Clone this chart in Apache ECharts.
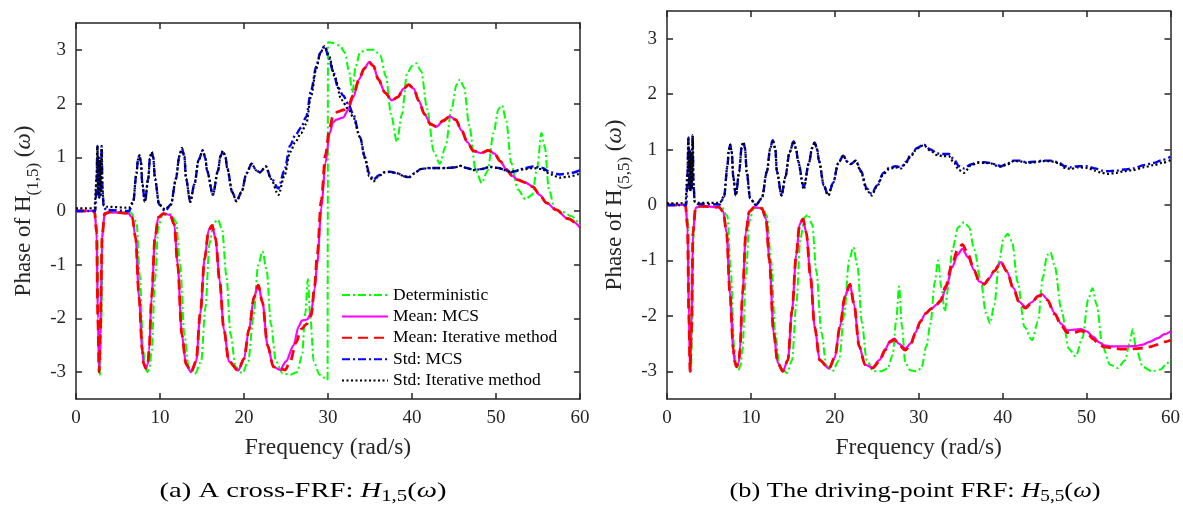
<!DOCTYPE html>
<html><head><meta charset="utf-8">
<script src="https://cdn.jsdelivr.net/npm/echarts@6/dist/echarts.min.js"></script>
<style>html,body{margin:0;padding:0;background:#fff}#c{width:1183px;height:506px}</style>
</head><body><div id="c"></div>
<script>
// ---------- tick labels / categories ----------
const xTicks = [0, 10, 20, 30, 40, 50, 60];
const yTicks = [-3, -2, -1, 0, 1, 2, 3];
const seriesNames = ['Deterministic', 'Mean: MCS', 'Mean: Iterative method', 'Std: MCS', 'Std: Iterative method'];

// ---------- (a) cross-FRF H(1,5): [frequency, phase] ----------
const aDet = [[0,0],[2.2,0],[2.5,-0.3],[2.7,-2.0],[2.85,-3.05],[3.0,-2.2],[3.2,-0.3],[3.5,-0.03],[6.5,-0.03],[7.2,-0.2],[7.6,-1.2],[8.0,-2.6],[8.25,-2.92],[8.5,-3.0],[8.75,-2.92],[9.0,-2.6],[9.4,-1.3],[9.8,-0.3],[10.3,-0.07],[11.3,-0.06],[11.9,-0.2],[12.4,-1.0],[12.9,-2.3],[13.4,-2.9],[14.2,-3.02],[14.9,-2.8],[15.4,-1.8],[15.9,-0.6],[16.4,-0.22],[16.9,-0.16],[17.4,-0.35],[17.9,-1.2],[18.4,-2.3],[19.0,-2.9],[19.8,-3.02],[20.5,-2.8],[21.1,-2.0],[21.7,-1.0],[22.2,-0.75],[22.7,-1.1],[23.2,-2.1],[23.8,-2.8],[24.6,-3.02],[25.5,-3.05],[26.3,-3.0],[26.9,-2.7],[27.3,-1.9],[27.6,-1.27],[27.9,-2.0],[28.3,-2.8],[29.0,-3.05],[29.95,-3.14],[30.0,3.14],[30.5,3.13],[31.4,3.08],[32.0,2.95],[32.5,2.6],[32.9,2.2],[33.3,2.7],[33.8,2.95],[34.5,3.0],[35.5,3.0],[36.2,2.9],[36.9,2.5],[37.5,1.8],[38.2,1.29],[38.8,1.8],[39.4,2.55],[40.0,2.7],[40.5,2.75],[41.1,2.6],[41.8,1.9],[42.6,1.1],[43.3,0.88],[44.0,1.2],[44.7,1.9],[45.3,2.35],[45.7,2.45],[46.2,2.3],[46.8,1.6],[47.6,0.75],[48.3,0.52],[49.0,0.75],[49.7,1.45],[50.3,1.9],[50.7,1.97],[51.2,1.7],[51.8,0.9],[52.6,0.4],[53.5,0.22],[54.3,0.3],[54.9,0.8],[55.4,1.45],[55.8,1.2],[56.3,0.4],[57.0,0.03],[58.0,-0.02],[59.0,-0.1],[60,-0.27]];
const aMeanMCS = [[0,0],[2.2,0],[2.45,-0.4],[2.6,-2.0],[2.75,-3.0],[2.9,-2.3],[3.1,-0.5],[3.4,-0.05],[4,-0.02],[6.2,-0.04],[6.7,-0.12],[7.1,-0.5],[7.5,-1.6],[7.9,-2.6],[8.05,-2.84],[8.3,-2.93],[8.55,-2.85],[8.7,-2.6],[9.0,-1.6],[9.4,-0.5],[9.8,-0.12],[10.4,-0.05],[11.2,-0.07],[11.7,-0.25],[12.1,-1.0],[12.6,-2.3],[13.1,-2.85],[13.7,-3.0],[14.3,-2.8],[14.8,-1.9],[15.3,-0.9],[15.8,-0.35],[16.2,-0.27],[16.6,-0.5],[17.1,-1.3],[17.6,-2.2],[18.2,-2.8],[19.3,-2.97],[20.0,-2.75],[20.6,-2.2],[21.2,-1.6],[21.7,-1.38],[22.2,-1.7],[22.8,-2.5],[23.5,-2.9],[24.3,-2.96],[25.0,-2.8],[25.9,-2.5],[26.5,-2.15],[26.9,-2.04],[27.5,-2.02],[28.0,-1.9],[28.4,-1.45],[28.7,-1.0],[29.2,0.05],[29.7,0.9],[30.2,1.45],[30.6,1.65],[31.0,1.7],[31.8,1.74],[32.4,1.88],[33.0,2.12],[33.7,2.45],[34.3,2.65],[34.9,2.77],[35.4,2.7],[36.0,2.45],[36.8,2.2],[37.6,2.06],[38.3,2.12],[39.0,2.28],[39.6,2.35],[40.2,2.28],[40.8,2.05],[41.5,1.8],[42.2,1.62],[42.9,1.57],[43.7,1.68],[44.5,1.76],[45.2,1.7],[45.9,1.5],[46.6,1.28],[47.3,1.12],[48.2,1.08],[49.1,1.13],[49.8,1.07],[50.5,0.93],[51.2,0.78],[51.9,0.66],[52.6,0.58],[53.5,0.53],[54.4,0.45],[55.2,0.3],[56.0,0.15],[57.2,0.02],[58.5,-0.14],[60,-0.3]];
const aMeanIter = [[0,0],[2.2,0],[2.45,-0.4],[2.6,-2.0],[2.75,-3.0],[2.9,-2.3],[3.1,-0.5],[3.4,-0.05],[4,-0.02],[6.2,-0.04],[6.7,-0.12],[7.1,-0.5],[7.5,-1.6],[7.9,-2.6],[8.05,-2.84],[8.3,-2.93],[8.55,-2.85],[8.7,-2.6],[9.0,-1.6],[9.4,-0.5],[9.8,-0.12],[10.4,-0.05],[11.2,-0.07],[11.7,-0.25],[12.1,-1.0],[12.6,-2.3],[13.1,-2.85],[13.7,-3.0],[14.3,-2.8],[14.8,-1.9],[15.3,-0.9],[15.8,-0.35],[16.2,-0.27],[16.6,-0.5],[17.1,-1.3],[17.6,-2.2],[18.2,-2.8],[19.3,-2.97],[20.0,-2.75],[20.6,-2.2],[21.2,-1.6],[21.7,-1.38],[22.2,-1.7],[22.8,-2.5],[23.5,-2.9],[24.3,-2.94],[24.9,-2.96],[25.5,-2.8],[26.2,-2.45],[26.8,-2.2],[27.5,-2.1],[28.0,-1.95],[28.4,-1.4],[28.7,-0.85],[29.2,0.2],[29.7,1.05],[30.2,1.55],[30.6,1.78],[31.2,1.85],[31.8,1.88],[32.4,1.95],[33.0,2.15],[33.7,2.45],[34.3,2.65],[34.9,2.77],[35.4,2.7],[36.0,2.45],[36.8,2.2],[37.6,2.06],[38.3,2.12],[39.0,2.28],[39.6,2.35],[40.2,2.28],[40.8,2.05],[41.5,1.8],[42.2,1.62],[42.9,1.57],[43.7,1.68],[44.5,1.76],[45.2,1.7],[45.9,1.5],[46.6,1.28],[47.3,1.12],[48.2,1.08],[49.1,1.13],[49.8,1.07],[50.5,0.93],[51.2,0.78],[51.9,0.66],[52.6,0.58],[53.5,0.53],[54.4,0.45],[55.2,0.3],[56.0,0.15],[57.2,0.02],[58.5,-0.14],[60,-0.3]];
const aStdMCS = [[0,0],[2.3,0],[2.45,0.6],[2.55,1.21],[2.62,0.3],[2.7,1.0],[2.78,0.25],[2.86,0.95],[2.95,0.3],[3.05,1.21],[3.15,0.4],[3.3,0.08],[3.6,0.02],[6.3,0.0],[6.8,0.15],[7.2,0.7],[7.38,0.96],[7.55,1.04],[7.72,0.92],[7.9,0.5],[8.2,0.17],[8.6,0.6],[8.8,0.98],[9.0,1.1],[9.2,1.0],[9.4,0.6],[9.9,0.12],[10.6,0.0],[11.3,0.12],[11.9,0.6],[12.3,1.02],[12.6,1.17],[12.9,1.02],[13.1,0.6],[13.6,0.17],[14.1,0.5],[14.6,0.95],[15.1,1.13],[15.4,0.98],[15.6,0.75],[16.3,0.3],[16.9,0.75],[17.2,1.02],[17.5,1.12],[17.8,1.0],[18.0,0.8],[18.6,0.35],[19.1,0.18],[19.7,0.35],[20.3,0.7],[20.9,0.88],[21.5,0.75],[21.9,0.72],[22.6,0.83],[23.2,0.62],[24.1,0.42],[24.8,0.75],[25.5,1.22],[26.1,1.41],[26.8,1.55],[27.4,1.75],[28.0,2.25],[28.6,2.69],[29.1,2.95],[29.6,3.07],[30.1,2.85],[30.6,2.6],[31.2,2.3],[31.8,2.15],[32.4,2.0],[33.0,1.8],[33.8,1.38],[34.4,1.0],[34.9,0.7],[35.4,0.58],[36.0,0.66],[36.7,0.72],[37.4,0.73],[38.3,0.7],[39.0,0.65],[39.6,0.63],[40.3,0.7],[41.0,0.78],[42.0,0.8],[43.0,0.8],[44.0,0.8],[45.0,0.81],[45.8,0.84],[46.5,0.8],[47.3,0.77],[48.2,0.78],[49.3,0.82],[50.3,0.8],[51.0,0.77],[51.7,0.72],[52.6,0.75],[53.4,0.8],[54.5,0.83],[55.5,0.8],[56.5,0.72],[57.6,0.68],[58.7,0.7],[60,0.76]];
const aStdIter = [[0,0.05],[2.2,0.05],[2.45,0.6],[2.55,1.21],[2.62,0.3],[2.7,1.0],[2.78,0.25],[2.86,0.95],[2.95,0.3],[3.05,1.21],[3.15,0.4],[3.3,0.1],[3.6,0.08],[6.3,0.06],[6.8,0.17],[7.2,0.7],[7.38,0.96],[7.55,1.04],[7.72,0.92],[7.9,0.5],[8.2,0.17],[8.6,0.6],[8.8,0.98],[9.0,1.1],[9.2,1.0],[9.4,0.6],[9.9,0.12],[10.6,0.03],[11.3,0.12],[11.9,0.6],[12.3,1.02],[12.6,1.17],[12.9,1.02],[13.1,0.6],[13.6,0.17],[14.1,0.5],[14.6,0.95],[15.1,1.13],[15.4,0.98],[15.6,0.75],[16.3,0.3],[16.9,0.75],[17.2,1.02],[17.5,1.12],[17.8,1.0],[18.0,0.8],[18.6,0.35],[19.1,0.18],[19.7,0.35],[20.3,0.7],[20.9,0.88],[21.5,0.75],[21.9,0.72],[22.6,0.83],[23.2,0.6],[24.1,0.3],[24.8,0.65],[25.5,1.1],[26.1,1.28],[26.8,1.45],[27.4,1.62],[28.0,2.15],[28.6,2.65],[29.1,2.95],[29.6,3.07],[30.1,2.9],[30.8,2.5],[31.6,2.07],[32.4,1.9],[33.0,1.75],[33.8,1.38],[34.4,0.98],[34.9,0.65],[35.4,0.55],[36.0,0.64],[36.7,0.72],[37.4,0.73],[38.3,0.7],[39.0,0.65],[39.6,0.62],[40.3,0.7],[41.0,0.78],[42.0,0.8],[43.0,0.8],[44.0,0.8],[45.0,0.81],[45.8,0.84],[46.5,0.8],[47.3,0.76],[48.2,0.78],[49.3,0.82],[50.3,0.8],[51.0,0.76],[51.7,0.73],[52.6,0.76],[53.4,0.78],[54.5,0.8],[55.5,0.78],[56.5,0.68],[57.6,0.62],[58.7,0.64],[60,0.7]];

// ---------- (b) driving-point FRF H(5,5): [frequency, phase] ----------
const bDet = [[0,0],[2.2,0],[2.5,-0.3],[2.7,-2.0],[2.85,-3.02],[3.0,-2.2],[3.2,-0.3],[3.5,-0.03],[6.5,-0.03],[7.2,-0.2],[7.6,-1.2],[8.0,-2.55],[8.25,-2.9],[8.5,-2.98],[8.75,-2.9],[9.0,-2.6],[9.4,-1.3],[9.8,-0.3],[10.3,-0.06],[11.4,-0.05],[11.9,-0.2],[12.4,-1.0],[12.9,-2.3],[13.4,-2.9],[14.3,-3.03],[14.9,-2.8],[15.4,-1.8],[15.9,-0.6],[16.4,-0.22],[16.8,-0.17],[17.3,-0.35],[17.8,-1.2],[18.4,-2.3],[19.0,-2.9],[19.7,-3.0],[20.5,-2.8],[21.1,-2.0],[21.7,-1.0],[22.2,-0.76],[22.7,-1.1],[23.2,-2.1],[23.8,-2.8],[24.6,-3.0],[25.5,-3.0],[26.3,-2.95],[26.9,-2.7],[27.3,-2.1],[27.66,-1.47],[28.0,-2.2],[28.4,-2.85],[29.0,-2.98],[29.7,-3.0],[30.3,-2.95],[30.9,-2.55],[31.4,-2.14],[31.9,-1.4],[32.3,-1.0],[32.7,-1.5],[33.1,-1.92],[33.5,-1.5],[34.0,-0.8],[34.7,-0.4],[35.4,-0.31],[36.0,-0.4],[36.6,-0.8],[37.4,-1.37],[38.0,-1.95],[38.5,-2.14],[39.0,-1.8],[39.6,-1.0],[40.1,-0.6],[40.6,-0.52],[41.1,-0.65],[41.8,-1.4],[42.6,-2.2],[43.5,-2.44],[44.2,-2.1],[44.8,-1.3],[45.3,-0.9],[45.7,-0.85],[46.2,-1.1],[47.0,-1.9],[47.9,-2.6],[48.7,-2.73],[49.5,-2.4],[50.2,-1.7],[50.7,-1.5],[51.2,-1.8],[51.9,-2.55],[52.8,-2.88],[53.7,-2.94],[54.6,-2.8],[55.1,-2.5],[55.5,-2.24],[55.9,-2.6],[56.7,-2.92],[57.8,-3.0],[58.8,-2.97],[59.5,-2.87],[60,-2.78]];
const bMeanMCS = [[0,0],[2.2,0],[2.45,-0.4],[2.6,-2.0],[2.75,-3.0],[2.9,-2.3],[3.1,-0.5],[3.4,-0.05],[4,-0.02],[6.2,-0.04],[6.7,-0.12],[7.1,-0.5],[7.5,-1.6],[7.9,-2.6],[8.05,-2.82],[8.3,-2.92],[8.55,-2.84],[8.7,-2.6],[9.0,-1.6],[9.4,-0.5],[9.8,-0.12],[10.4,-0.04],[11.3,-0.06],[11.8,-0.25],[12.2,-1.0],[12.7,-2.3],[13.2,-2.85],[13.8,-3.0],[14.4,-2.8],[14.9,-1.9],[15.4,-0.9],[15.8,-0.35],[16.2,-0.25],[16.6,-0.5],[17.1,-1.3],[17.6,-2.2],[18.2,-2.8],[19.3,-2.95],[20.0,-2.75],[20.6,-2.2],[21.2,-1.65],[21.8,-1.43],[22.3,-1.8],[22.9,-2.55],[23.6,-2.88],[24.5,-2.94],[25.3,-2.8],[26.0,-2.6],[26.6,-2.45],[27.1,-2.41],[27.6,-2.5],[28.4,-2.59],[29.0,-2.5],[29.6,-2.3],[30.2,-2.1],[30.8,-1.96],[31.5,-1.87],[32.1,-1.8],[32.6,-1.75],[33.2,-1.52],[34.0,-1.12],[34.6,-0.9],[35.2,-0.79],[35.9,-0.95],[36.6,-1.18],[37.2,-1.38],[37.8,-1.42],[38.4,-1.32],[39.0,-1.19],[39.8,-1.03],[40.5,-1.2],[41.3,-1.5],[42.0,-1.75],[42.7,-1.84],[43.5,-1.75],[44.2,-1.64],[44.7,-1.61],[45.3,-1.7],[46.2,-1.95],[47.0,-2.15],[47.7,-2.26],[48.5,-2.25],[49.3,-2.24],[50.0,-2.28],[50.8,-2.38],[51.5,-2.48],[52.1,-2.53],[53.0,-2.55],[54.0,-2.55],[55.0,-2.55],[55.9,-2.54],[56.7,-2.52],[57.5,-2.47],[58.5,-2.4],[59.3,-2.33],[60,-2.28]];
const bMeanIter = [[0,0],[2.2,0],[2.45,-0.4],[2.6,-2.0],[2.75,-3.0],[2.9,-2.3],[3.1,-0.5],[3.4,-0.05],[4,-0.02],[6.2,-0.04],[6.7,-0.12],[7.1,-0.5],[7.5,-1.6],[7.9,-2.6],[8.05,-2.82],[8.3,-2.92],[8.55,-2.84],[8.7,-2.6],[9.0,-1.6],[9.4,-0.5],[9.8,-0.12],[10.4,-0.04],[11.3,-0.06],[11.8,-0.25],[12.2,-1.0],[12.7,-2.3],[13.2,-2.85],[13.8,-3.0],[14.4,-2.8],[14.9,-1.9],[15.4,-0.9],[15.8,-0.35],[16.2,-0.25],[16.6,-0.5],[17.1,-1.3],[17.6,-2.2],[18.2,-2.8],[19.3,-2.95],[20.0,-2.75],[20.6,-2.2],[21.2,-1.65],[21.8,-1.43],[22.3,-1.8],[22.9,-2.55],[23.6,-2.88],[24.5,-2.94],[25.3,-2.82],[26.0,-2.62],[26.6,-2.47],[27.1,-2.43],[27.6,-2.52],[28.4,-2.62],[29.0,-2.53],[29.6,-2.32],[30.2,-2.1],[30.8,-1.96],[31.5,-1.87],[32.1,-1.8],[32.6,-1.72],[33.2,-1.47],[34.0,-1.05],[34.6,-0.82],[35.2,-0.71],[35.9,-0.9],[36.6,-1.18],[37.2,-1.38],[37.8,-1.43],[38.4,-1.33],[39.0,-1.19],[39.8,-1.03],[40.5,-1.2],[41.3,-1.52],[42.0,-1.77],[42.7,-1.86],[43.5,-1.76],[44.2,-1.65],[44.7,-1.62],[45.3,-1.71],[46.2,-1.97],[47.0,-2.18],[47.7,-2.3],[48.5,-2.3],[49.3,-2.27],[50.0,-2.3],[50.8,-2.42],[51.5,-2.52],[52.1,-2.56],[53.0,-2.58],[54.0,-2.6],[55.0,-2.6],[55.9,-2.59],[56.7,-2.58],[57.5,-2.56],[58.5,-2.52],[59.3,-2.47],[60,-2.44]];
const bStdMCS = [[0,0],[2.3,0],[2.45,0.6],[2.55,1.22],[2.62,0.3],[2.7,1.0],[2.78,0.25],[2.86,0.95],[2.95,0.3],[3.06,1.26],[3.15,0.4],[3.3,0.06],[3.6,0.02],[6.3,0.01],[6.8,0.15],[7.2,0.7],[7.37,1.0],[7.54,1.09],[7.71,0.96],[7.9,0.5],[8.2,0.17],[8.6,0.6],[8.9,1.04],[9.1,1.14],[9.3,1.02],[9.5,0.6],[9.9,0.12],[10.6,0.0],[11.3,0.12],[11.9,0.6],[12.3,1.02],[12.6,1.17],[12.9,1.02],[13.1,0.6],[13.65,0.17],[14.1,0.5],[14.6,0.95],[15.1,1.15],[15.4,1.0],[15.6,0.8],[16.3,0.33],[16.9,0.75],[17.3,1.03],[17.6,1.13],[17.9,1.0],[18.1,0.8],[18.7,0.35],[19.2,0.17],[19.8,0.4],[20.4,0.75],[21.0,0.89],[21.5,0.78],[21.9,0.74],[22.5,0.8],[23.1,0.62],[23.8,0.3],[24.4,0.2],[25.0,0.35],[25.8,0.58],[26.5,0.67],[27.2,0.7],[27.9,0.68],[28.5,0.78],[29.0,0.89],[29.8,1.03],[30.6,1.09],[31.4,1.0],[32.2,0.93],[32.9,0.92],[33.6,0.92],[34.2,0.82],[34.8,0.7],[35.4,0.66],[36.2,0.73],[37.0,0.77],[37.8,0.77],[38.6,0.76],[39.3,0.72],[39.8,0.7],[40.5,0.74],[41.3,0.8],[42.0,0.8],[42.9,0.77],[43.8,0.78],[44.8,0.8],[45.7,0.8],[46.6,0.77],[47.4,0.7],[48.1,0.68],[49.0,0.7],[50.1,0.7],[51.0,0.66],[51.8,0.62],[52.5,0.61],[53.5,0.62],[54.5,0.64],[55.6,0.66],[56.8,0.72],[58.0,0.76],[59.0,0.81],[60,0.87]];
const bStdIter = [[0,0.03],[2.2,0.03],[2.45,0.6],[2.55,1.22],[2.62,0.3],[2.7,1.0],[2.78,0.25],[2.86,0.95],[2.95,0.3],[3.06,1.26],[3.15,0.4],[3.3,0.06],[3.6,0.04],[6.3,0.04],[6.8,0.16],[7.2,0.7],[7.37,1.0],[7.54,1.09],[7.71,0.96],[7.9,0.5],[8.2,0.17],[8.6,0.6],[8.9,1.04],[9.1,1.14],[9.3,1.02],[9.5,0.6],[9.9,0.12],[10.6,0.0],[11.3,0.12],[11.9,0.6],[12.3,1.02],[12.6,1.17],[12.9,1.02],[13.1,0.6],[13.65,0.17],[14.1,0.5],[14.6,0.95],[15.1,1.15],[15.4,1.0],[15.6,0.8],[16.3,0.28],[16.9,0.75],[17.3,1.03],[17.6,1.13],[17.9,1.0],[18.1,0.8],[18.7,0.35],[19.2,0.17],[19.8,0.4],[20.4,0.75],[21.0,0.89],[21.5,0.78],[21.9,0.74],[22.5,0.8],[23.1,0.6],[23.8,0.27],[24.4,0.17],[25.0,0.33],[25.8,0.56],[26.5,0.65],[27.2,0.68],[27.9,0.66],[28.5,0.76],[29.0,0.87],[29.8,1.02],[30.6,1.08],[31.4,0.98],[32.2,0.9],[32.9,0.88],[33.6,0.88],[34.2,0.76],[34.8,0.63],[35.4,0.58],[36.2,0.71],[37.0,0.76],[37.8,0.76],[38.6,0.75],[39.3,0.71],[39.8,0.69],[40.5,0.73],[41.3,0.79],[42.0,0.79],[42.9,0.76],[43.8,0.77],[44.8,0.79],[45.7,0.79],[46.6,0.76],[47.4,0.67],[48.1,0.65],[49.0,0.68],[50.1,0.67],[51.0,0.62],[51.8,0.58],[52.5,0.56],[53.5,0.58],[54.5,0.61],[55.6,0.63],[56.8,0.68],[58.0,0.72],[59.0,0.76],[60,0.81]];

// ---------- styling ----------
const FONT = '"Liberation Serif", "Times New Roman", serif';
const AXC = '#262626';
const lineStyles = {
  'Deterministic':          {color: '#00ff00', width: 2.0, type: [8, 3, 2, 3], z: 2},
  'Mean: MCS':              {color: '#ff00ff', width: 2.2, type: 'solid', z: 3},
  'Mean: Iterative method': {color: '#ff0000', width: 2.8, type: [10, 6], z: 4},
  'Std: MCS':               {color: '#0000ff', width: 2.4, type: [8, 3, 2, 3], z: 5},
  'Std: Iterative method':  {color: '#000000', width: 2.2, type: [2, 2.5], z: 6}
};

function xAxes(gi) {
  const common = {
    gridIndex: gi, type: 'value', min: 0, max: 60, interval: 10,
    axisLine: {show: true, onZero: false, lineStyle: {color: AXC, width: 1.5}},
    axisTick: {show: true, inside: true, length: 6, lineStyle: {color: AXC, width: 1.5}},
    splitLine: {show: false}
  };
  return [
    Object.assign({}, common, {
      position: 'bottom',
      axisLabel: {show: true, margin: 10, fontFamily: FONT, fontSize: 19, color: AXC},
      name: 'Frequency (rad/s)', nameLocation: 'middle', nameGap: 37,
      nameTextStyle: {fontFamily: FONT, fontSize: 23.5, color: AXC}
    }),
    Object.assign({}, common, {position: 'top', axisLabel: {show: false}})
  ];
}
function yAxes(gi, sub) {
  const common = {
    gridIndex: gi, type: 'value', min: -3.5, max: 3.5,
    axisLine: {show: true, onZero: false, lineStyle: {color: AXC, width: 1.5}},
    axisTick: {show: true, inside: true, length: 6, customValues: yTicks, lineStyle: {color: AXC, width: 1.5}},
    splitLine: {show: false}
  };
  return [
    Object.assign({}, common, {
      position: 'left',
      axisLabel: {show: true, customValues: yTicks, margin: 10, fontFamily: FONT, fontSize: 19, color: AXC},
      name: '{n|Phase of H}{s|' + sub + '}{n| (}{w|ω}{n|)}',
      nameLocation: 'middle', nameRotate: 90, nameGap: 34,
      nameTextStyle: {
        color: AXC,
        rich: {
          n: {fontFamily: FONT, fontSize: 23, color: AXC},
          s: {fontFamily: FONT, fontSize: 17, color: AXC, padding: [20, 0, 0, 0]},
          w: {fontFamily: FONT, fontSize: 23, color: AXC, fontStyle: 'italic'}
        }
      }
    }),
    Object.assign({}, common, {position: 'right', axisLabel: {show: false}})
  ];
}
function mk(name, data, gi) {
  const s = lineStyles[name];
  return {
    name: name, type: 'line', xAxisIndex: gi * 2, yAxisIndex: gi * 2, data: data,
    symbol: 'none', showSymbol: false, smooth: 0.3, smoothMonotone: 'x',
    lineStyle: {color: s.color, width: s.width, type: s.type},
    itemStyle: {color: s.color}, z: s.z, emphasis: {disabled: true}
  };
}

const chart = echarts.init(document.getElementById('c'), null, {renderer: 'canvas'});
const capRich = {
  r: {fontFamily: FONT, fontSize: 22, color: '#000'},
  i: {fontFamily: FONT, fontSize: 22, color: '#000', fontStyle: 'italic'},
  s: {fontFamily: FONT, fontSize: 16, color: '#000', padding: [12, 0, 0, 0]}
};
chart.setOption({
  animation: false,
  backgroundColor: '#fff',
  grid: [
    {left: 76, top: 23, width: 504, height: 376, containLabel: false},
    {left: 667, top: 11, width: 504, height: 388, containLabel: false}
  ],
  xAxis: xAxes(0).concat(xAxes(1)),
  yAxis: yAxes(0, '(1,5)').concat(yAxes(1, '(5,5)')),
  legend: {
    data: seriesNames, orient: 'vertical', left: 341, top: 286, padding: 0,
    itemWidth: 46, itemHeight: 14, itemGap: 3.4, selectedMode: false,
    itemStyle: {color: 'transparent', borderColor: 'transparent', borderWidth: 0, opacity: 0},
    textStyle: {fontFamily: FONT, fontSize: 17.5, color: '#000', lineHeight: 17}
  },
  graphic: [
    {type: 'text', x: 303, y: 491, scaleX: 1.3,
     style: {text: '{r|(a) A cross-FRF: }{i|H}{s|1,5}{r|(}{i|ω}{r|)}', rich: capRich, align: 'center', verticalAlign: 'middle'}},
    {type: 'text', x: 915, y: 491, scaleX: 1.2,
     style: {text: '{r|(b) The driving-point FRF: }{i|H}{s|5,5}{r|(}{i|ω}{r|)}', rich: capRich, align: 'center', verticalAlign: 'middle'}}
  ],
  series: [
    mk(seriesNames[0], aDet, 0), mk(seriesNames[1], aMeanMCS, 0), mk(seriesNames[2], aMeanIter, 0),
    mk(seriesNames[3], aStdMCS, 0), mk(seriesNames[4], aStdIter, 0),
    mk(seriesNames[0], bDet, 1), mk(seriesNames[1], bMeanMCS, 1), mk(seriesNames[2], bMeanIter, 1),
    mk(seriesNames[3], bStdMCS, 1), mk(seriesNames[4], bStdIter, 1)
  ]
});
</script></body></html>
